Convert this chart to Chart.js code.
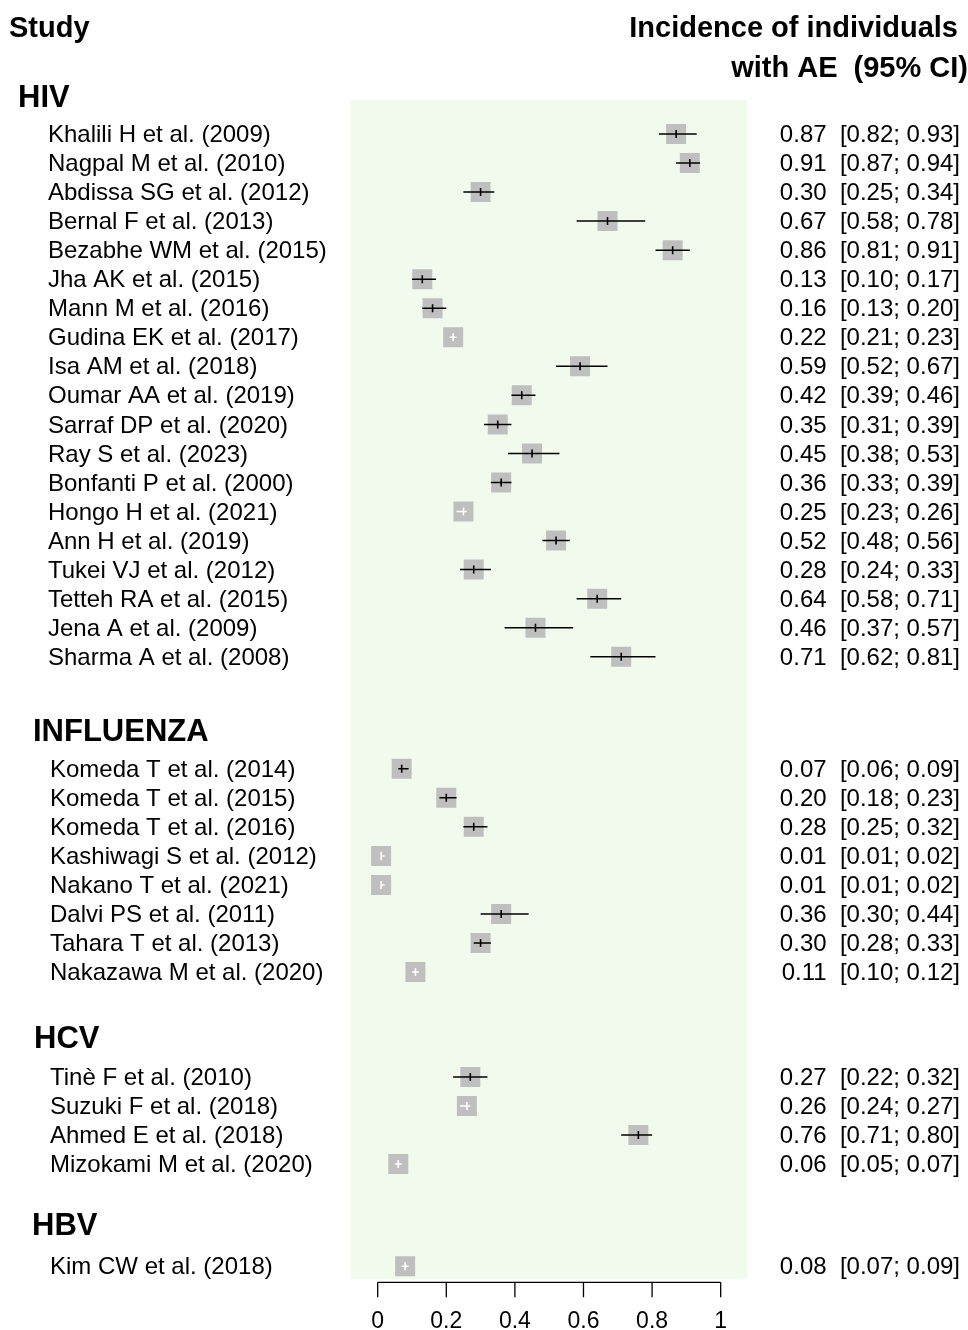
<!DOCTYPE html>
<html>
<head>
<meta charset="utf-8">
<script src="https://cdn.jsdelivr.net/npm/chart.js@4.4.1/dist/chart.umd.min.js"></script>
<style>
  html, body { margin: 0; padding: 0; background: #fff; }
  #wrap { position: relative; width: 968px; height: 1330px; }
</style>
</head>
<body>
<div id="wrap"><canvas id="forest"></canvas></div>
<script>
// subgroups and the studies in each one
const groups = ["HIV", "INFLUENZA", "HCV", "HBV"];
const studyGroup = [
  0, 0, 0, 0, 0, 0, 0, 0, 0, 0, 0, 0, 0, 0, 0, 0, 0, 0, 0,
  1, 1, 1, 1, 1, 1, 1, 1,
  2, 2, 2, 2,
  3
];
const studies = [
  "Khalili H et al. (2009)", "Nagpal M et al. (2010)", "Abdissa SG et al. (2012)",
  "Bernal F et al. (2013)", "Bezabhe WM et al. (2015)", "Jha AK et al. (2015)",
  "Mann M et al. (2016)", "Gudina EK et al. (2017)", "Isa AM et al. (2018)",
  "Oumar AA et al. (2019)", "Sarraf DP et al. (2020)", "Ray S et al. (2023)",
  "Bonfanti P et al. (2000)", "Hongo H et al. (2021)", "Ann H et al. (2019)",
  "Tukei VJ et al. (2012)", "Tetteh RA et al. (2015)", "Jena A et al. (2009)",
  "Sharma A et al. (2008)",
  "Komeda T et al. (2014)", "Komeda T et al. (2015)", "Komeda T et al. (2016)",
  "Kashiwagi S et al. (2012)", "Nakano T et al. (2021)", "Dalvi PS et al. (2011)",
  "Tahara T et al. (2013)", "Nakazawa M et al. (2020)",
  "Tinè F et al. (2010)", "Suzuki F et al. (2018)", "Ahmed E et al. (2018)",
  "Mizokami M et al. (2020)",
  "Kim CW et al. (2018)"
];
const estimate = [
  0.87, 0.91, 0.30, 0.67, 0.86, 0.13, 0.16, 0.22, 0.59, 0.42, 0.35, 0.45, 0.36, 0.25, 0.52, 0.28, 0.64, 0.46, 0.71,
  0.07, 0.20, 0.28, 0.01, 0.01, 0.36, 0.30, 0.11,
  0.27, 0.26, 0.76, 0.06,
  0.08
];
const lower = [
  0.82, 0.87, 0.25, 0.58, 0.81, 0.10, 0.13, 0.21, 0.52, 0.39, 0.31, 0.38, 0.33, 0.23, 0.48, 0.24, 0.58, 0.37, 0.62,
  0.06, 0.18, 0.25, 0.01, 0.01, 0.30, 0.28, 0.10,
  0.22, 0.24, 0.71, 0.05,
  0.07
];
const upper = [
  0.93, 0.94, 0.34, 0.78, 0.91, 0.17, 0.20, 0.23, 0.67, 0.46, 0.39, 0.53, 0.39, 0.26, 0.56, 0.33, 0.71, 0.57, 0.81,
  0.09, 0.23, 0.32, 0.02, 0.02, 0.44, 0.33, 0.12,
  0.32, 0.27, 0.80, 0.07,
  0.09
];
const xTicks = [0, 0.2, 0.4, 0.6, 0.8, 1];

// layout: where each subgroup starts (in rows) and how far its title sits above
const groupStart = [0, 21.86, 32.47, 38.99];
const headerLift = [1.30, 1.35, 1.37, 1.44];
const headerX = [18, 33, 34, 32];
const labelX = [48, 50, 50, 50];

const FONT = "'Liberation Sans', Arial, Helvetica, sans-serif";

// row of each study
const rowOf = [];
const seen = [0, 0, 0, 0];
studyGroup.forEach((g) => {
  rowOf.push(groupStart[g] + seen[g]);
  seen[g]++;
});

// CI is drawn white when it hides inside the grey box
const inside = estimate.map((e, i) => (upper[i] - lower[i]) <= 0.031 && (upper[i] - e) <= 0.011);
const ciColor = inside.map((w) => (w ? "#ffffff" : "#000000"));

const ciData = [];
studies.forEach((s, i) => {
  ciData.push({ x: lower[i], y: rowOf[i] });
  ciData.push({ x: upper[i], y: rowOf[i] });
  ciData.push({ x: null, y: rowOf[i] });
});
const pointData = estimate.map((e, i) => ({ x: e, y: rowOf[i] }));

const fmt = (v) => v.toFixed(2);

const backdrop = {
  id: "backdrop",
  beforeDraw(chart) {
    const { ctx, chartArea } = chart;
    ctx.save();
    ctx.fillStyle = "#f2faee";
    ctx.fillRect(chartArea.left, chartArea.top, chartArea.right - chartArea.left, chartArea.bottom - chartArea.top);
    ctx.restore();
  }
};

const forestText = {
  id: "forestText",
  afterDraw(chart) {
    const { ctx, chartArea } = chart;
    const xs = chart.scales.x;
    const ys = chart.scales.y;
    ctx.save();
    ctx.fillStyle = "#000";

    // column headings
    ctx.font = "bold 29px " + FONT;
    ctx.textBaseline = "alphabetic";
    ctx.textAlign = "left";
    ctx.fillText("Study", 9, 37);
    ctx.textAlign = "right";
    ctx.fillText("Incidence of individuals", 958, 37);
    ctx.fillText("with AE  (95% CI)", 968, 77);

    // subgroup titles
    ctx.textBaseline = "middle";
    ctx.textAlign = "left";
    ctx.font = "bold 31px " + FONT;
    groups.forEach((g, i) => {
      ctx.fillText(g, headerX[i], ys.getPixelForValue(groupStart[i] - headerLift[i]) + 2.5);
    });

    // study labels and estimates
    ctx.font = "24px " + FONT;
    studies.forEach((s, i) => {
      const y = ys.getPixelForValue(rowOf[i]) + 1.5;
      ctx.textAlign = "left";
      ctx.fillText(s, labelX[studyGroup[i]], y);
      ctx.textAlign = "right";
      ctx.fillText(fmt(estimate[i]) + "  [" + fmt(lower[i]) + "; " + fmt(upper[i]) + "]", 960, y);
    });

    // x axis
    const axisY = chartArea.bottom + 3;
    ctx.strokeStyle = "#000";
    ctx.lineWidth = 1.3;
    ctx.beginPath();
    ctx.moveTo(xs.getPixelForValue(xTicks[0]), axisY);
    ctx.lineTo(xs.getPixelForValue(xTicks[xTicks.length - 1]), axisY);
    xTicks.forEach((t) => {
      const px = xs.getPixelForValue(t);
      ctx.moveTo(px, axisY);
      ctx.lineTo(px, axisY + 15);
    });
    ctx.stroke();
    ctx.font = "23px " + FONT;
    ctx.textAlign = "center";
    xTicks.forEach((t) => {
      ctx.fillText(String(t), xs.getPixelForValue(t), axisY + 39);
    });
    ctx.restore();
  }
};

new Chart(document.getElementById("forest"), {
  type: "scatter",
  data: {
    datasets: [
      {
        // tick mark at the point estimate
        type: "scatter",
        data: pointData,
        pointStyle: "line",
        rotation: 90,
        pointRadius: 4,
        pointBorderWidth: 1.6,
        pointBorderColor: ciColor,
        order: 0
      },
      {
        // confidence intervals
        type: "line",
        data: ciData,
        showLine: true,
        spanGaps: false,
        borderWidth: 1.5,
        pointRadius: 0,
        segment: {
          borderColor: (c) => ciColor[Math.floor(c.p0DataIndex / 3)]
        },
        order: 1
      },
      {
        // grey boxes
        type: "scatter",
        data: pointData,
        pointStyle: "rect",
        pointRadius: 10 * Math.SQRT2,
        pointBackgroundColor: "#bfbfbf",
        pointBorderWidth: 0,
        order: 2
      }
    ]
  },
  options: {
    responsive: true,
    maintainAspectRatio: false,
    animation: false,
    events: [],
    layout: {
      padding: { left: 350.7, right: 220.7, top: 100, bottom: 50.7 }
    },
    plugins: {
      legend: { display: false },
      tooltip: { enabled: false }
    },
    scales: {
      x: { type: "linear", min: -0.0787, max: 1.0776, display: false },
      y: { type: "linear", reverse: true, min: -1.171, max: 39.44, display: false }
    }
  },
  plugins: [backdrop, forestText]
});
</script>
</body>
</html>
